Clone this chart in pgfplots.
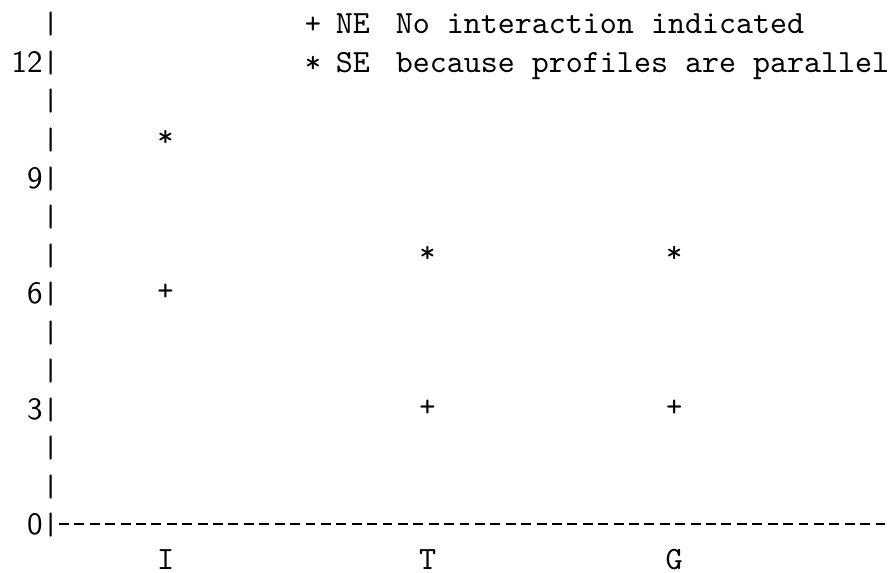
\documentclass[border=0pt]{standalone}
\usepackage{pgfplots}
\pgfplotsset{compat=1.18}
\newcommand\yb{{\ttfamily|}}
\newcommand\yn[1]{{\sffamily #1}\yb}
\begin{document}
\begin{tikzpicture}
\useasboundingbox (0,0) rectangle (287.1pt,184.8pt);
\begin{axis}[
  at={(16.13pt,15.81pt)}, anchor=south west,
  scale only axis, width=270.97pt, height=161.6pt,
  xmin=0, xmax=54.5, ymin=0, ymax=13,
  axis x line*=bottom, axis y line*=left,
  y axis line style={draw=none},
  x axis line style={line width=0.65pt, dash pattern=on 3.2pt off 1.77pt, shorten <=2.9pt},
  major tick length=0pt, tick style={draw=none},
  xtick={7.5,24.5,40.5}, xticklabels={I,T,G},
  xticklabel style={font=\fontsize{10.5}{12}\ttfamily, anchor=base, inner sep=0pt, yshift=-14.8pt},
  ytick={0,1,2,3,4,5,6,7,8,9,10,11,12,13},
  yticklabels={\yn{0},\yb,\yb,\yn{3},\yb,\yb,\yn{6},\yb,\yb,\yn{9},\yb,\yb,\yn{12},\yb},
  yticklabel style={anchor=base east, inner sep=0pt, xshift=3.1pt, yshift=-3.55pt},
  clip=false,
  legend style={draw=none, fill=none, at={(axis cs:16.5,13.34)}, anchor=north west,
    font=\fontsize{10.45}{12}\ttfamily, inner sep=0pt, row sep=2.4pt, column sep=4.7pt,
    nodes={inner sep=0pt, text height=7.5pt, text depth=2.5pt}},
  legend cell align=left,
  legend image code/.code={\draw[#1] plot coordinates {(0pt,0pt)};},
]
\addplot[black, only marks, mark=text, text mark={+}, text mark as node=true,
  text mark style={font=\ttfamily, inner sep=0pt}]
  coordinates {(7.5,6) (24.5,3) (40.5,3)};
\addlegendentry{\makebox[19.4pt][l]{NE}No interaction indicated}
\addplot[black, only marks, mark=text, text mark={*}, text mark as node=true,
  text mark style={font=\ttfamily, inner sep=0pt}]
  coordinates {(7.5,10) (24.5,7) (40.5,7)};
\addlegendentry{\makebox[19.4pt][l]{SE}because profiles are parallel}
\end{axis}
\end{tikzpicture}
\end{document}
